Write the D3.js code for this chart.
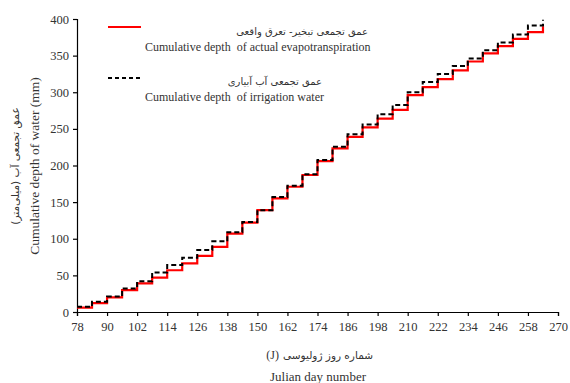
<!DOCTYPE html>
<html>
<head>
<meta charset="utf-8">
<script src="https://cdn.jsdelivr.net/npm/d3@7"></script>
<style>
	body { margin: 0; background: #fff; }
	text { font-family: "Liberation Serif", "Times New Roman", serif; fill: #333; }
	.fa { font-family: "DejaVu Sans", sans-serif; }
</style>
</head>
<body onload="body_ready()">
<div id="container"></div>
<script>

// julian days where the irrigation interval starts
var days = [78, 84, 90, 96, 102, 108, 114, 120, 126, 132, 138, 144, 150, 156, 162, 168,
	174, 180, 186, 192, 198, 204, 210, 216, 222, 228, 234, 240, 246, 252, 258, 264];

// cumulative depth of actual evapotranspiration (mm)
var et_depth = [6, 12, 20, 30, 39, 47, 57, 66.5, 76.5, 89, 107, 122, 139, 155, 171, 187,
	206, 223.5, 239, 252, 264, 276, 296, 307, 318, 330, 342, 353, 363, 373, 382, 390];

// cumulative depth of irrigation water (mm)
var irr_depth = [7, 14, 21, 32, 42, 54, 64, 74, 84.5, 96.5, 109, 123, 139, 157, 172.5, 188,
	207.5, 225.5, 242.5, 256, 270, 282.5, 300, 314, 325, 336, 346, 357.5, 368, 379, 391, 399];

var x_ticks = [78, 90, 102, 114, 126, 138, 150, 162, 174, 186, 198, 210, 222, 234, 246, 258, 270];
var y_ticks = [0, 50, 100, 150, 200, 250, 300, 350, 400];

function body_ready()
{// called when the body is ready

	var canvas = d3.select("#container")
		.append("svg")
		.attr("width", 570)
		.attr("height", 383);

	var x = d3.scaleLinear().domain([78, 270]).range([77, 558]);
	var y = d3.scaleLinear().domain([0, 400]).range([312, 19]);

	// axes
	canvas.append("g")
		.attr("transform", "translate(0,312)")
		.call(d3.axisBottom(x).tickValues(x_ticks).tickSize(4).tickPadding(6));
	canvas.append("g")
		.attr("transform", "translate(77,0)")
		.call(d3.axisLeft(y).tickValues(y_ticks).tickSize(4).tickPadding(4));

	canvas.selectAll(".tick text")
		.attr("font-size", 12.5);
	canvas.selectAll(".domain, .tick line")
		.attr("stroke", "#000")
		.attr("stroke-width", 1.2);

	// step lines
	var step_line = d3.line()
		.x((d, i) => x(days[i]))
		.y((d) => y(d))
		.curve(d3.curveStepAfter);

	canvas.append("path") // evapotranspiration
		.attr("d", step_line(et_depth))
		.attr("fill", "none")
		.attr("stroke", "#ff0000")
		.attr("stroke-width", 2.2);

	canvas.append("path") // irrigation
		.attr("d", step_line(irr_depth))
		.attr("fill", "none")
		.attr("stroke", "#000")
		.attr("stroke-width", 2)
		.attr("stroke-dasharray", "5,3");

	// legend
	canvas.append("line")
		.attr("x1", 108).attr("x2", 141).attr("y1", 27).attr("y2", 27)
		.attr("stroke", "#ff0000").attr("stroke-width", 2);
	canvas.append("line")
		.attr("x1", 108).attr("x2", 141).attr("y1", 78).attr("y2", 78)
		.attr("stroke", "#000").attr("stroke-width", 2).attr("stroke-dasharray", "4,3");

	canvas.append("text").attr("class", "fa")
		.attr("x", 368).attr("y", 35).attr("text-anchor", "end").attr("font-size", 10)
		.text("عمق تجمعی تبخیر- تعرق واقعی");
	canvas.append("text")
		.attr("x", 145).attr("y", 51).attr("font-size", 12)
		.attr("xml:space", "preserve")
		.text("Cumulative depth  of actual evapotranspiration");
	canvas.append("text").attr("class", "fa")
		.attr("x", 322).attr("y", 85).attr("text-anchor", "end").attr("font-size", 10)
		.text("عمق تجمعی آب آبیاری");
	canvas.append("text")
		.attr("x", 145).attr("y", 101).attr("font-size", 12)
		.attr("xml:space", "preserve")
		.text("Cumulative depth  of irrigation water");

	// axis titles
	canvas.append("text")
		.attr("x", 279).attr("y", 359).attr("text-anchor", "end").attr("font-size", 12)
		.text("(J)");
	canvas.append("text").attr("class", "fa")
		.attr("x", 283).attr("y", 359).attr("font-size", 10.5)
		.text("شماره روز ژولیوسی");
	canvas.append("text")
		.attr("x", 318).attr("y", 381).attr("text-anchor", "middle").attr("font-size", 13)
		.text("Julian day number");

	canvas.append("text").attr("class", "fa")
		.attr("transform", "translate(19,166) rotate(-90)")
		.attr("text-anchor", "middle").attr("font-size", 10.5)
		.text("عمق تجمعی آب (میلی‌متر)");
	canvas.append("text")
		.attr("transform", "translate(39,166) rotate(-90)")
		.attr("text-anchor", "middle").attr("font-size", 13.5)
		.text("Cumulative depth of water (mm)");

}// End body_ready

</script>
</body>
</html>
